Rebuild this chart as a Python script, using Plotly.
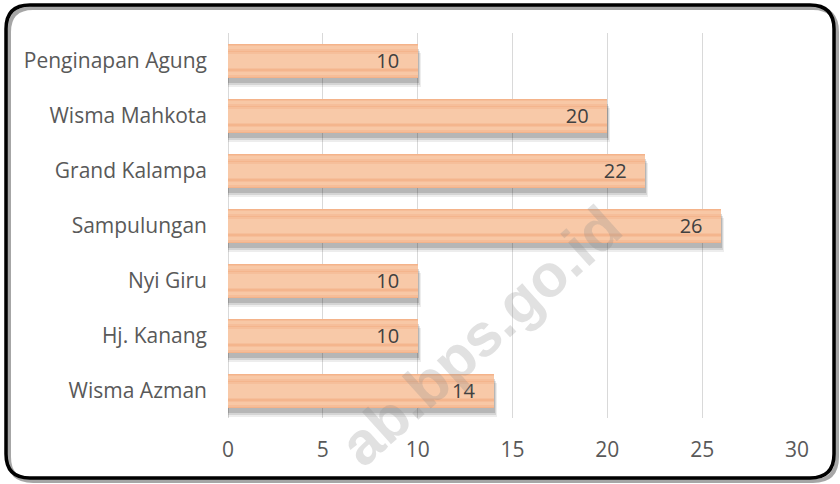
import plotly.graph_objects as go

# ---- data ----
categories = ["Penginapan Agung", "Wisma Mahkota", "Grand Kalampa", "Sampulungan",
              "Nyi Giru", "Hj. Kanang", "Wisma Azman"]
values = [10, 20, 22, 26, 10, 10, 14]
x_ticks = [0, 5, 10, 15, 20, 25, 30]
watermark = "ab.bps.go.id"

# ---- geometry helpers ----
W, H = 840, 484
ML, MR, MT, MB = 228, 43, 33, 66
PW, PH = W - ML - MR, H - MT - MB
PX_PER_CAT = PH / len(categories)
BW = 34 / PX_PER_CAT  # bar width in category units


def px(x):
    return (x - ML) / PW


def py(y):
    return (H - MB - y) / PH


def rounded_rect(x0, y0, x1, y1, r):
    pts = [
        f"M {px(x0 + r)},{py(y0)}",
        f"L {px(x1 - r)},{py(y0)}",
        f"Q {px(x1)},{py(y0)} {px(x1)},{py(y0 + r)}",
        f"L {px(x1)},{py(y1 - r)}",
        f"Q {px(x1)},{py(y1)} {px(x1 - r)},{py(y1)}",
        f"L {px(x0 + r)},{py(y1)}",
        f"Q {px(x0)},{py(y1)} {px(x0)},{py(y1 - r)}",
        f"L {px(x0)},{py(y0 + r)}",
        f"Q {px(x0)},{py(y0)} {px(x0 + r)},{py(y0)}",
        "Z",
    ]
    return " ".join(pts)


fig = go.Figure()

# shadows
for d_px, extra, alpha in [(9, 0.16, 0.07), (7, 0.11, 0.10), (5, 0.06, 0.14)]:
    fig.add_trace(go.Bar(
        y=categories, x=[v + extra for v in values], orientation="h",
        width=BW, offset=-BW / 2 + d_px / PX_PER_CAT,
        marker=dict(color=f"rgba(0,0,0,{alpha})", line=dict(width=0)),
        hoverinfo="skip", showlegend=False,
    ))

# striped bar layers (concentric bands, soft gradient)
bands = [(34, "#F4B38A"), (32, "#F6BD98"), (29, "#F8C8A6"),
         (23, "#F6BE9A"), (20, "#F4B58D"), (17, "#F6BF9B"), (14, "#F8C9A8")]
for w_px, col in bands:
    w = w_px / PX_PER_CAT
    fig.add_trace(go.Bar(
        y=categories, x=values, orientation="h",
        width=w, offset=-w / 2,
        marker=dict(color=col, line=dict(width=0)),
        hoverinfo="skip", showlegend=False,
    ))

# labels
fig.add_trace(go.Bar(
    y=categories, x=values, orientation="h",
    width=BW, offset=-BW / 2,
    marker=dict(color="rgba(0,0,0,0)", line=dict(width=0)),
    text=[f"{v}\u00a0\u00a0\u00a0" for v in values],
    textposition="inside", insidetextanchor="end",
    textfont=dict(family="Open Sans", size=20, color="#404040"),
    hoverinfo="skip", showlegend=False,
))

fig.update_layout(
    width=W, height=H,
    margin=dict(l=ML, r=MR, t=MT, b=MB, pad=0),
    paper_bgcolor="white", plot_bgcolor="white",
    barmode="overlay", bargap=0,
    hovermode=False,
    font=dict(family="Open Sans", size=21, color="#595959"),
    xaxis=dict(
        range=[0, 30], tickvals=x_ticks, ticktext=[str(t) for t in x_ticks],
        showgrid=True, gridcolor="#D9D9D9", gridwidth=1,
        zeroline=True, zerolinecolor="#D9D9D9", zerolinewidth=1,
        showline=False, ticks="", ticklabelstandoff=17,
        tickfont=dict(family="Open Sans", size=21, color="#595959"),
        fixedrange=True,
    ),
    yaxis=dict(
        categoryorder="array", categoryarray=categories, autorange="reversed",
        showgrid=False, zeroline=False, showline=False, ticks="",
        ticklabelstandoff=20,
        tickfont=dict(family="Open Sans", size=21, color="#595959"),
        fixedrange=True,
    ),
    shapes=[
        dict(type="path", xref="paper", yref="paper",
             path=rounded_rect(9, 8, 837, 481, 24),
             line=dict(color="rgba(0,0,0,0.35)", width=4), layer="above"),
        dict(type="path", xref="paper", yref="paper",
             path=rounded_rect(6, 5, 834, 478, 24),
             line=dict(color="black", width=3.5), layer="above"),
    ],
    annotations=[
        dict(text=f"<b>{watermark}</b>", xref="paper", yref="paper",
             x=px(480), y=py(336), xanchor="center", yanchor="middle",
             textangle=-42, showarrow=False,
             font=dict(family="Liberation Sans", size=60,
                       color="rgba(140,140,140,0.26)")),
    ],
)

fig.write_html(
    "out.html",
    config={"displayModeBar": False, "staticPlot": True},
    post_script="document.body.style.margin='0';document.body.style.padding='0';",
)
